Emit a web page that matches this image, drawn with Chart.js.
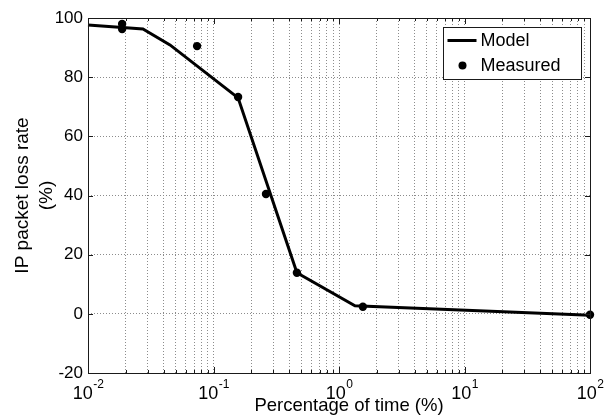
<!DOCTYPE html>
<html>
<head>
<meta charset="utf-8">
<script src="https://cdn.jsdelivr.net/npm/chart.js@4/dist/chart.umd.min.js"></script>
<style>
  html, body { margin: 0; padding: 0; background: #fff; }
</style>
</head>
<body>
<canvas id="lossCanvas" width="605" height="419"></canvas>
<script>
// values
let modelX = [0.01, 0.0274, 0.045, 0.157, 0.462, 1.34, 100];
let modelY = [97.6, 96.3, 90.9, 73.0, 13.9, 2.7, -0.5];

let measuredX = [0.0187, 0.0187, 0.074, 0.157, 0.262, 0.462, 1.55, 100];
let measuredY = [98.0, 96.3, 90.5, 73.3, 40.5, 13.9, 2.4, -0.3];

let seriesNames = ["Model", "Measured"];
let xDecades = [0.01, 0.1, 1, 10, 100];
let yTicks = [-20, 0, 20, 40, 60, 80, 100];
let xTitle = "Percentage of time (%)";

let fontFamily = "'Liberation Sans', Arial, sans-serif";

let toPoints = function(xs, ys) {
    let pts = [];
    for (let i = 0; i < xs.length; i++) {
        pts.push({x: xs[i], y: ys[i]});
    }
    return pts;
}

// frame, inward ticks, 10^n labels and the legend box, MATLAB style
let axesDecorPlugin = {
    id: 'axesDecor',
    afterDraw: function(chart) {
        let ctx = chart.ctx;
        let a = chart.chartArea;
        let xs = chart.scales.x;
        let ys = chart.scales.y;

        ctx.save();
        ctx.strokeStyle = '#1a1a1a';
        ctx.lineWidth = 1;

        // ticks
        ctx.beginPath();
        for (let t of xs.ticks) {
            let px = Math.round(xs.getPixelForValue(t.value)) + 0.5;
            let len = t.major ? 6 : 3;
            ctx.moveTo(px, a.bottom);
            ctx.lineTo(px, a.bottom - len);
            ctx.moveTo(px, a.top);
            ctx.lineTo(px, a.top + len);
        }
        for (let v of yTicks) {
            let py = Math.round(ys.getPixelForValue(v)) + 0.5;
            ctx.moveTo(a.left, py);
            ctx.lineTo(a.left + 5, py);
            ctx.moveTo(a.right, py);
            ctx.lineTo(a.right - 5, py);
        }
        ctx.stroke();

        // box
        ctx.strokeRect(Math.round(a.left) + 0.5, Math.round(a.top) + 0.5,
            Math.round(a.right - a.left), Math.round(a.bottom - a.top));

        // x tick labels as 10 with a raised exponent
        ctx.fillStyle = '#000';
        ctx.textBaseline = 'alphabetic';
        ctx.textAlign = 'left';
        for (let v of xDecades) {
            let px = xs.getPixelForValue(v);
            let base = "10";
            let exp = String(Math.round(Math.log10(v)));
            ctx.font = "18px " + fontFamily;
            let wb = ctx.measureText(base).width;
            ctx.font = "12px " + fontFamily;
            let we = ctx.measureText(exp).width;
            let start = px - (wb + we) / 2;
            ctx.font = "18px " + fontFamily;
            ctx.fillText(base, start, a.bottom + 26);
            ctx.font = "12px " + fontFamily;
            ctx.fillText(exp, start + wb + 0.5, a.bottom + 15);
        }

        // x axis title, sits a little right of centre in the original
        ctx.font = "18.5px " + fontFamily;
        ctx.textAlign = 'center';
        ctx.fillText(xTitle, (a.left + a.right) / 2 + 10, a.bottom + 38);
        ctx.textAlign = 'left';

        // legend
        let bw = 138, bh = 52;
        let bx = Math.round(a.right - 9 - bw) + 0.5;
        let by = Math.round(a.top + 9) + 0.5;
        ctx.fillStyle = '#fff';
        ctx.fillRect(bx, by, bw, bh);
        ctx.strokeStyle = '#1a1a1a';
        ctx.strokeRect(bx, by, bw, bh);

        ctx.strokeStyle = '#000';
        ctx.lineWidth = 3;
        ctx.beginPath();
        ctx.moveTo(bx + 4, by + 13);
        ctx.lineTo(bx + 33, by + 13);
        ctx.stroke();

        ctx.fillStyle = '#000';
        ctx.beginPath();
        ctx.arc(bx + 19, by + 38, 4, 0, Math.PI * 2);
        ctx.fill();

        ctx.font = "18px " + fontFamily;
        ctx.textBaseline = 'middle';
        ctx.fillText(chart.data.datasets[0].label, bx + 37, by + 14);
        ctx.fillText(chart.data.datasets[1].label, bx + 37, by + 39);
        ctx.restore();
    }
}

let createLossChart = function() {
    const ctx = document.getElementById('lossCanvas');

    return new Chart(ctx, {
        type: 'scatter',
        data: {
            datasets: [{
                label: seriesNames[0],
                data: toPoints(modelX, modelY),
                showLine: true,
                borderColor: '#000',
                borderWidth: 3,
                pointRadius: 0,
                pointHoverRadius: 0,
                tension: 0,
                clip: false
            }, {
                label: seriesNames[1],
                data: toPoints(measuredX, measuredY),
                showLine: false,
                backgroundColor: '#000',
                borderColor: '#000',
                pointRadius: 4.2,
                borderWidth: 0,
                clip: false
            }]
        },
        options: {
            responsive: false,
            animation: false,
            devicePixelRatio: 1,
            layout: {
                padding: {left: 0, right: 15, top: 18, bottom: 0}
            },
            plugins: {
                legend: {display: false},
                tooltip: {enabled: false}
            },
            scales: {
                x: {
                    type: 'logarithmic',
                    min: 0.01,
                    max: 100,
                    afterBuildTicks: function(scale) {
                        let ticks = [];
                        for (let i = 0; i < xDecades.length; i++) {
                            ticks.push({value: xDecades[i], major: true});
                            if (i < xDecades.length - 1) {
                                for (let m = 2; m <= 9; m++) {
                                    ticks.push({value: xDecades[i] * m, major: false});
                                }
                            }
                        }
                        scale.ticks = ticks;
                    },
                    afterFit: function(scale) {
                        scale.height = 46;
                    },
                    ticks: {display: false},
                    grid: {
                        color: '#8c8c8c',
                        lineWidth: 1,
                        drawTicks: false
                    },
                    border: {display: false, dash: [1, 2]},
                    title: {display: false}
                },
                y: {
                    min: -20,
                    max: 100,
                    afterBuildTicks: function(scale) {
                        scale.ticks = yTicks.map(v => ({value: v}));
                    },
                    afterFit: function(scale) {
                        scale.width = 88;
                    },
                    ticks: {
                        color: '#000',
                        padding: 5,
                        font: {family: fontFamily, size: 17}
                    },
                    grid: {
                        color: '#8c8c8c',
                        lineWidth: 1,
                        drawTicks: false
                    },
                    border: {display: false, dash: [1, 2]},
                    title: {
                        display: true,
                        text: ["IP packet loss rate", "(%)"],
                        color: '#000',
                        font: {family: fontFamily, size: 19, lineHeight: 1.3},
                        padding: {top: 10, bottom: 0}
                    }
                }
            }
        },
        plugins: [axesDecorPlugin]
    });
}

window.onload = function() {
    createLossChart();
};
</script>
</body>
</html>
